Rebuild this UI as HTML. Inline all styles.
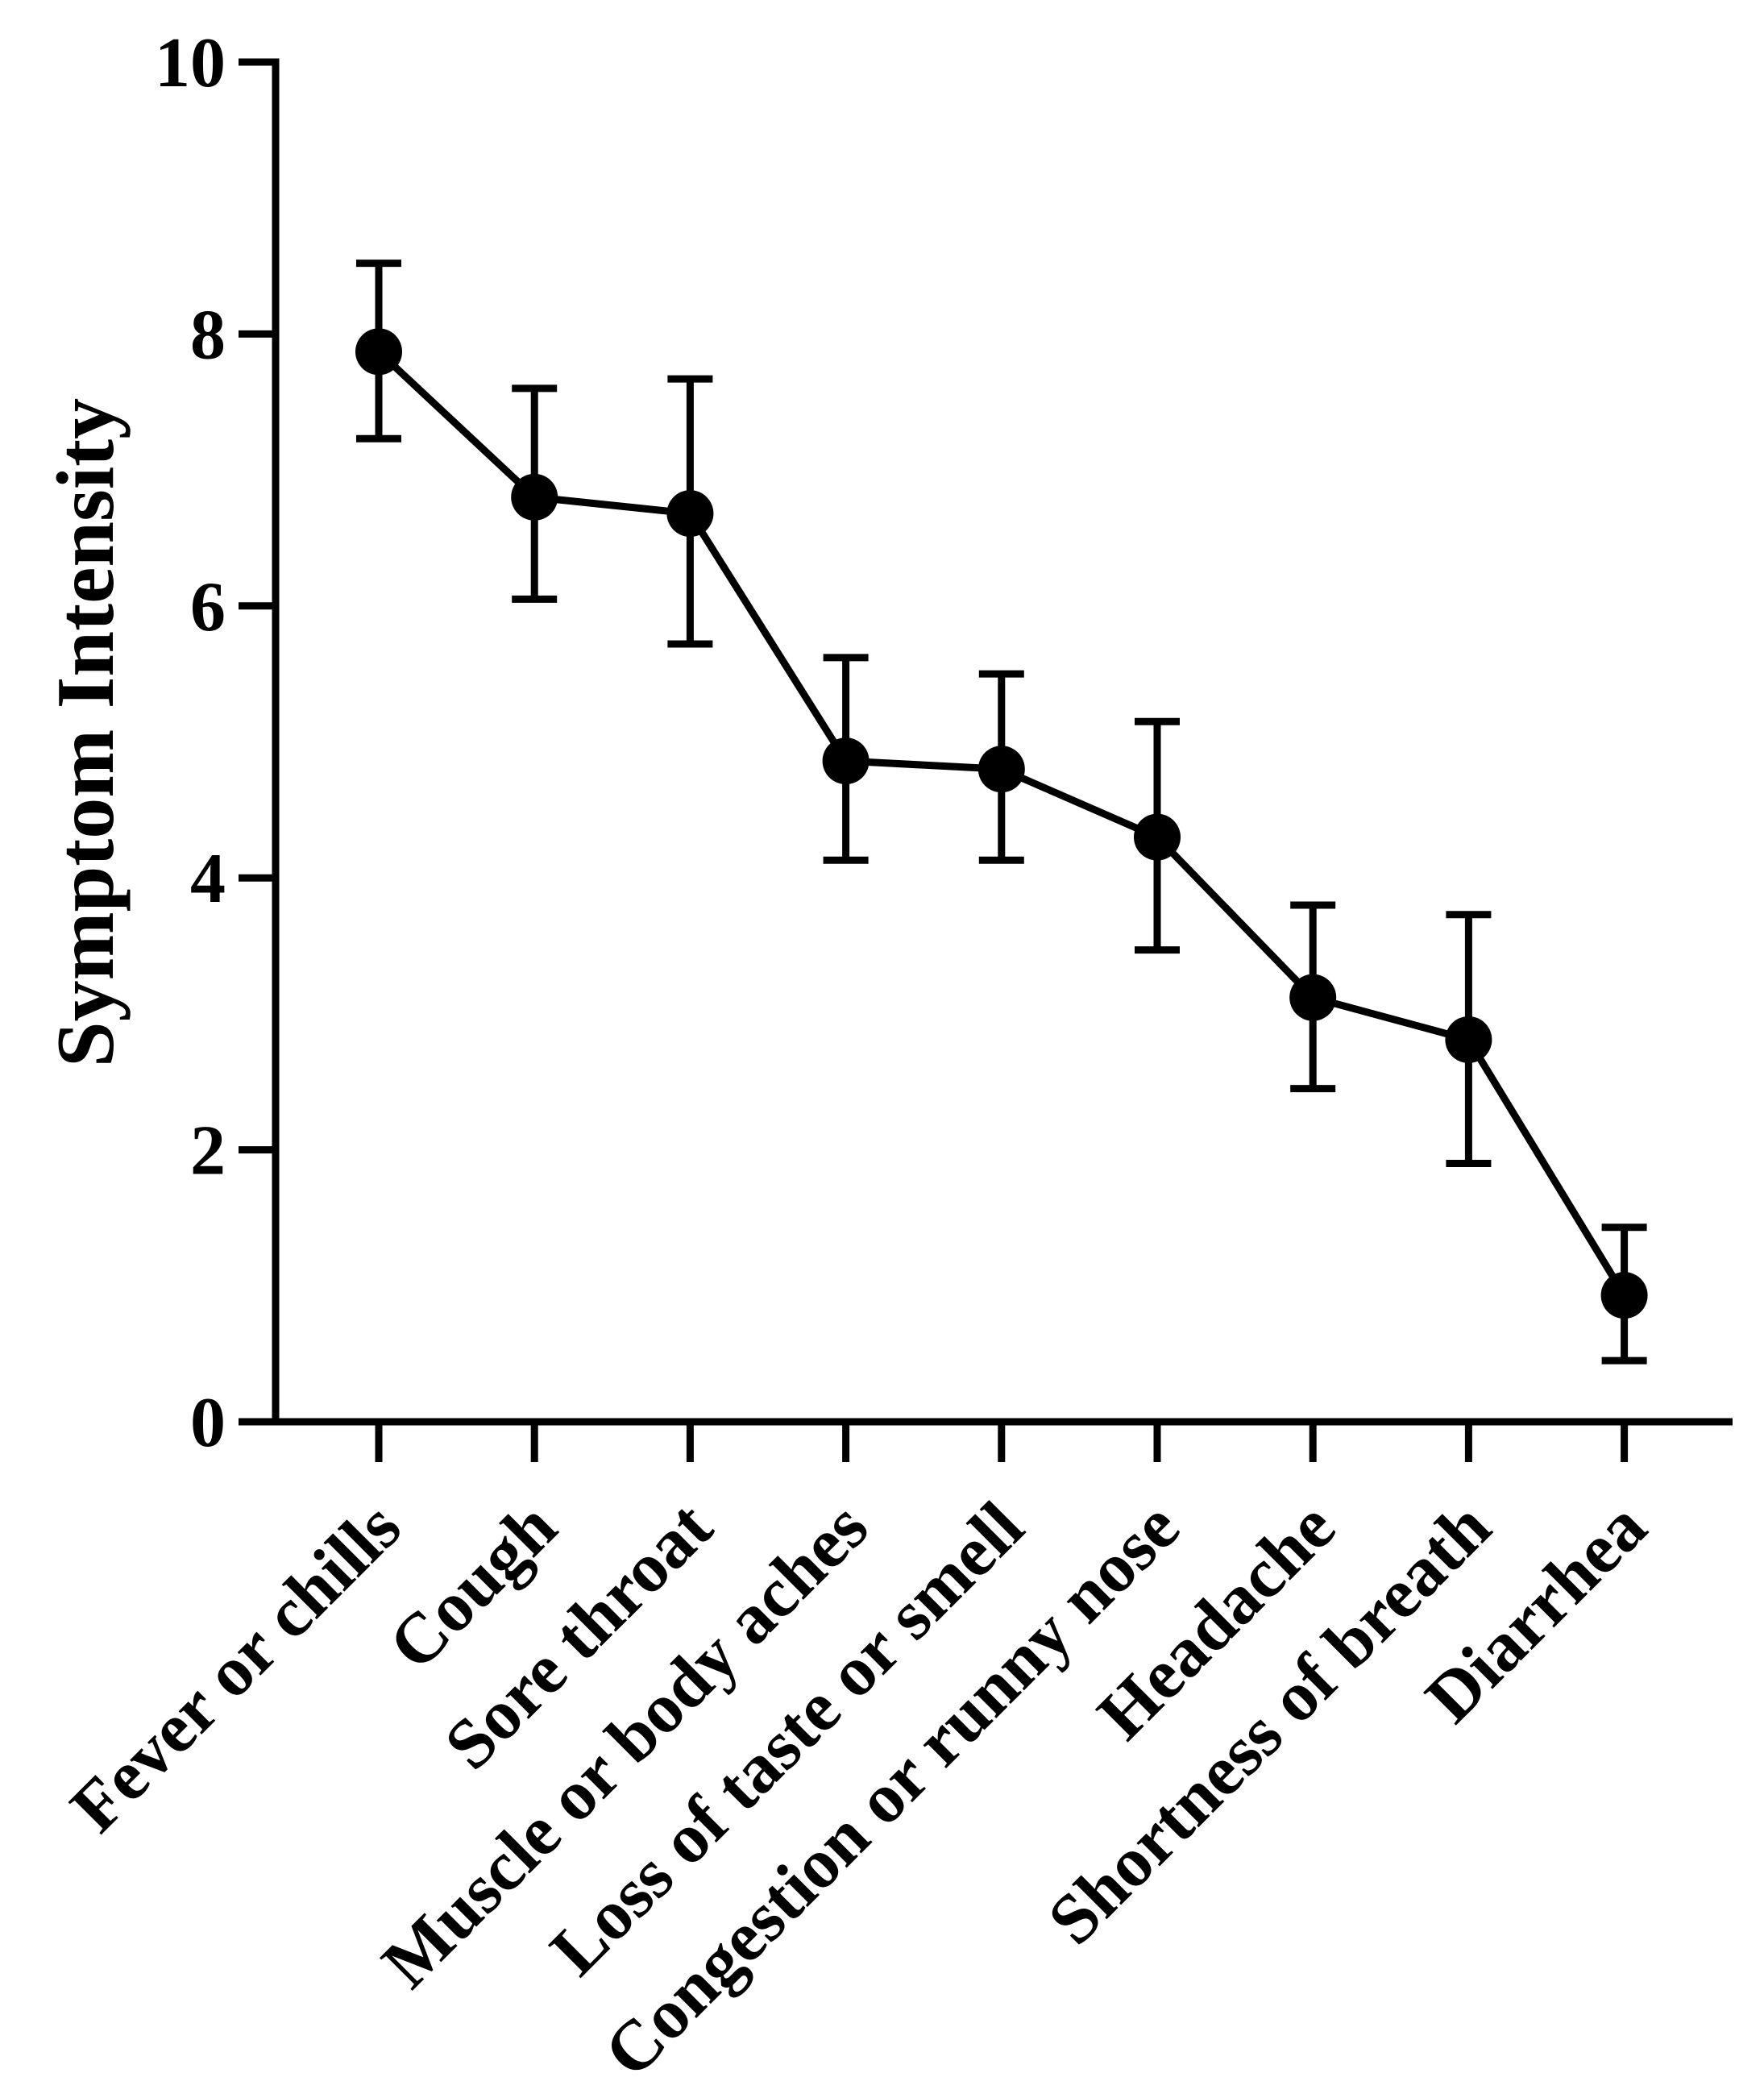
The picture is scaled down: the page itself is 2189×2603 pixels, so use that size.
<!DOCTYPE html>
<html><head><meta charset="utf-8"><style>
html,body{margin:0;padding:0;background:#fff;}
svg{display:block;font-family:"Liberation Serif","Times New Roman",serif;font-weight:bold;}
</style></head><body>
<svg id="chart" width="2189" height="2603" viewBox="0 0 2189 2603" xmlns="http://www.w3.org/2000/svg">
<g id="axes"></g>
<g id="marks"></g>
<text transform="translate(140,909) rotate(-90)" text-anchor="middle" font-size="102">Symptom Intensity</text>
</svg>
<script>
const categories = ["Fever or chills","Cough","Sore throat","Muscle or body aches","Loss of taste or smell","Congestion or runny nose","Headache","Shortness of breath","Diarrhea"];
const means = [7.87, 6.80, 6.68, 4.86, 4.80, 4.30, 3.12, 2.81, 0.93];
const upper = [8.52, 7.60, 7.67, 5.62, 5.50, 5.15, 3.80, 3.73, 1.43];
const lower = [7.23, 6.05, 5.72, 4.13, 4.13, 3.47, 2.45, 1.90, 0.45];
const yTicks = [0, 2, 4, 6, 8, 10];

const NS = "http://www.w3.org/2000/svg";
const X0 = 342, Y0 = 1764, YTOP = 77, XEND = 2150;
const xFirst = 470, xStep = 193.2;
function xs(i){ return xFirst + i*xStep; }
function ys(v){ return Y0 - (Y0 - YTOP) * v / 10; }
function mk(tag, attrs, parent){ const e = document.createElementNS(NS, tag); for (const k in attrs) e.setAttribute(k, attrs[k]); parent.appendChild(e); return e; }
const axes = document.getElementById('axes'), marks = document.getElementById('marks');
const SW = 9;

let yl = mk('line',{x1:X0,y1:YTOP-SW/2,x2:X0,y2:Y0,stroke:'#000','stroke-width':SW},axes);


let xl = mk('line',{x1:X0-SW/2,y1:Y0,x2:XEND,y2:Y0,stroke:'#000','stroke-width':SW},axes);



yTicks.forEach(v=>{
  const y = ys(v);
  let t = mk('line',{x1:X0-46,y1:y,x2:X0,y2:y,stroke:'#000','stroke-width':SW},axes);
  
  
  let l = mk('text',{x:X0-62,y:y+30,'text-anchor':'end','font-size':88},axes);
  l.textContent = v;
  
  
});

categories.forEach((c,i)=>{
  const x = xs(i);
  let t = mk('line',{x1:x,y1:Y0,x2:x,y2:Y0+50,stroke:'#000','stroke-width':SW},axes);
  
  
  let l = mk('text',{transform:`translate(${x+32},${1900}) rotate(-45)`,'text-anchor':'end','font-size':88},axes);
  l.textContent = c;
  
  
});

const pts = means.map((m,i)=>xs(i)+','+ys(m)).join(' ');
let line = mk('polyline',{points:pts,fill:'none',stroke:'#000','stroke-width':SW,'stroke-linejoin':'round'},marks);



means.forEach((m,i)=>{
  const x = xs(i);
  const g = mk('g',{},marks);
  
  
  mk('line',{x1:x,y1:ys(upper[i]),x2:x,y2:ys(lower[i]),stroke:'#000','stroke-width':SW},g);
  mk('line',{x1:x-28,y1:ys(upper[i]),x2:x+28,y2:ys(upper[i]),stroke:'#000','stroke-width':SW},g);
  mk('line',{x1:x-28,y1:ys(lower[i]),x2:x+28,y2:ys(lower[i]),stroke:'#000','stroke-width':SW},g);
  let p = mk('circle',{cx:x,cy:ys(m),r:29,fill:'#000'},marks);
  
  
});
</script>
</body></html>
